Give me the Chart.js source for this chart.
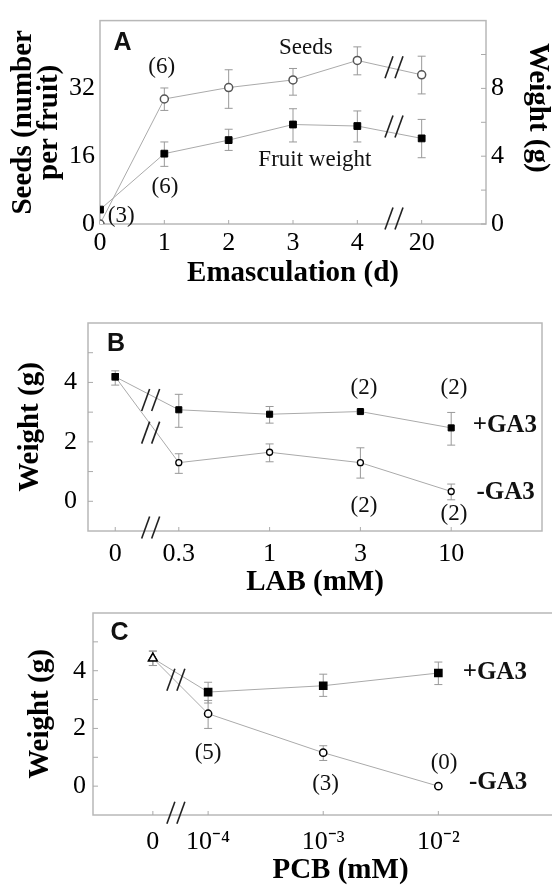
<!DOCTYPE html>
<html>
<head>
<meta charset="utf-8">
<script src="https://cdn.jsdelivr.net/npm/chart.js@4"></script>
<style>
  html, body { margin: 0; padding: 0; background: #fff; width: 552px; height: 891px; overflow: hidden; position: relative; }
  canvas { position: absolute; left: 0; }
</style>
</head>
<body>
<canvas id="chartA" width="552" height="290" style="top:0"></canvas>
<canvas id="chartB" width="552" height="307" style="top:290px"></canvas>
<canvas id="chartC" width="600" height="301" style="top:590px"></canvas>
<script>
// Panel A - emasculation
const daysPos = [0, 1, 2, 3, 4, 5];
const daysLabels = ['0', '1', '2', '3', '4', '20'];
const seeds = [0, 29.5, 32.2, 34.0, 38.6, 35.2];
const seedsLo = [0, 26.8, 27.3, 30.4, 35.2, 30.7];
const seedsHi = [0, 32.1, 36.4, 36.7, 41.8, 39.6];
const fruitWt = [0.85, 4.15, 4.95, 5.87, 5.78, 5.05];
const fruitWtLo = [0.85, 3.40, 4.34, 4.84, 4.84, 3.91];
const fruitWtHi = [0.85, 4.84, 5.59, 6.80, 6.67, 6.17];

// Panel B - LAB
const labPos = [0.3, 1, 2, 3, 4];
const labLabels = ['0', '0.3', '1', '3', '10'];
const labPlus = [4.19, 3.08, 2.93, 3.02, 2.47];
const labPlusLo = [3.91, 2.49, 2.63, 2.97, 1.89];
const labPlusHi = [4.39, 3.60, 3.19, 3.07, 2.99];
const labMinus = [4.19, 1.30, 1.65, 1.30, 0.33];
const labMinusLo = [4.19, 0.94, 1.33, 0.78, 0.05];
const labMinusHi = [4.19, 1.60, 1.93, 1.80, 0.58];

// Panel C - PCB
const pcbPos = [0.52, 1, 2, 3];
const pcbLabels = ['0', '10\u207B\u2074', '10\u207B\u00B3', '10\u207B\u00B2'];
const pcbPlus = [4.43, 3.26, 3.48, 3.92];
const pcbPlusLo = [4.18, 2.88, 3.11, 3.52];
const pcbPlusHi = [4.68, 3.60, 3.88, 4.30];
const pcbMinus = [4.43, 2.51, 1.16, 0];
const pcbMinusLo = [4.18, 2.00, 0.89, 0];
const pcbMinusHi = [4.68, 2.97, 1.40, 0];

const serif = "'Liberation Serif', 'Times New Roman', serif";
const sans = "'Liberation Sans', Arial, sans-serif";
const tickFont = { family: serif, size: 26 };
const titleFont = { family: serif, size: 29, weight: 'bold', lineHeight: 1 };
const LINE = '#aaaaaa';
const ERR = '#999999';
const BOX = '#b8b8b8';

function pts(xs, ys) {
  return xs.map((x, i) => ({ x: x, y: ys[i] }));
}

// box, inward ticks, error bars, axis breaks and in-plot texts
const decor = {
  id: 'decor',
  beforeDatasetsDraw(chart, args, o) {
    const ctx = chart.ctx, ca = chart.chartArea;
    ctx.save();
    ctx.strokeStyle = BOX;
    ctx.lineWidth = 1.5;
    ctx.strokeRect(ca.left, ca.top, ca.width, ca.height);

    ctx.lineWidth = 1;
    ctx.strokeStyle = '#aaa';
    const xs = chart.scales.x;
    (o.xMarks || []).forEach(v => {
      const px = xs.getPixelForValue(v);
      ctx.beginPath(); ctx.moveTo(px, ca.bottom); ctx.lineTo(px, ca.bottom - 4); ctx.stroke();
    });
    (o.yMarks || []).forEach(m => {
      const sc = chart.scales[m.axis];
      m.values.forEach(v => {
        const py = sc.getPixelForValue(v);
        ctx.beginPath();
        if (m.side === 'right') { ctx.moveTo(ca.right, py); ctx.lineTo(ca.right - 5, py); }
        else { ctx.moveTo(ca.left, py); ctx.lineTo(ca.left + 5, py); }
        ctx.stroke();
      });
    });

    ctx.strokeStyle = ERR;
    chart.data.datasets.forEach((ds, i) => {
      if (!ds.errLo) return;
      const meta = chart.getDatasetMeta(i);
      const sx = chart.scales[meta.xAxisID], sy = chart.scales[meta.yAxisID];
      ds.data.forEach((p, j) => {
        const lo = ds.errLo[j], hi = ds.errHi[j];
        if (lo === hi) return;
        const px = sx.getPixelForValue(p.x);
        const y1 = sy.getPixelForValue(lo), y2 = sy.getPixelForValue(hi);
        ctx.beginPath();
        ctx.moveTo(px, y1); ctx.lineTo(px, y2);
        ctx.moveTo(px - 4, y1); ctx.lineTo(px + 4, y1);
        ctx.moveTo(px - 4, y2); ctx.lineTo(px + 4, y2);
        ctx.stroke();
      });
    });
    ctx.restore();
  },
  afterDatasetsDraw(chart, args, o) {
    const ctx = chart.ctx;
    const xs = chart.scales.x, ys = chart.scales.y;
    ctx.save();
    ctx.strokeStyle = '#222';
    ctx.lineWidth = 1.6;
    (o.breaks || []).forEach(b => {
      const cx = xs.getPixelForValue(b.x), cy = ys.getPixelForValue(b.y);
      [-5, 5].forEach(dx => {
        ctx.beginPath();
        ctx.moveTo(cx + dx - 4, cy + 11);
        ctx.lineTo(cx + dx + 4, cy - 11);
        ctx.stroke();
      });
    });
    ctx.fillStyle = '#111';
    ctx.textAlign = 'center';
    ctx.textBaseline = 'middle';
    (o.labels || []).forEach(l => {
      ctx.font = l.font;
      ctx.fillText(l.text, xs.getPixelForValue(l.x), ys.getPixelForValue(l.y));
    });
    ctx.restore();
  }
};

function xScale(pos, labels, max, height, pad, title, titlePad) {
  return {
    type: 'linear', min: 0, max: max,
    grid: { display: false, drawTicks: false }, border: { display: false },
    afterBuildTicks: s => { s.ticks = pos.map(v => ({ value: v })); },
    afterFit: s => { s.height = height; },
    ticks: { autoSkip: false, maxRotation: 0, padding: pad, color: '#000', font: tickFont,
      callback: v => labels[pos.indexOf(v)] },
    title: { display: true, text: title, color: '#000', font: titleFont, padding: { top: 0, bottom: titlePad } }
  };
}

function yScale(pos, min, max, vals, width, pad, title, titlePad, extra) {
  return Object.assign({
    position: pos, min: min, max: max,
    grid: { display: false, drawTicks: false }, border: { display: false },
    afterBuildTicks: s => { s.ticks = vals.map(v => ({ value: v })); },
    afterFit: s => { s.width = width; },
    ticks: { padding: pad, color: '#000', font: tickFont },
    title: { display: true, text: title, color: '#000', font: titleFont, padding: { top: titlePad, bottom: 0 } }
  }, extra || {});
}

const baseOpts = {
  responsive: false,
  animation: false,
  events: [],
};

// ---- A ----
new Chart(document.getElementById('chartA'), {
  type: 'line',
  data: {
    datasets: [{
      label: 'Seeds',
      data: pts(daysPos, seeds),
      yAxisID: 'y',
      errLo: seedsLo, errHi: seedsHi,
      borderColor: LINE, borderWidth: 1,
      pointStyle: 'circle', pointRadius: 4, pointBorderWidth: 1.5,
      pointBorderColor: '#555', pointBackgroundColor: '#fff'
    }, {
      label: 'Fruit weight',
      data: pts(daysPos, fruitWt),
      yAxisID: 'y1',
      errLo: fruitWtLo, errHi: fruitWtHi,
      borderColor: LINE, borderWidth: 1,
      pointStyle: 'rect', pointRadius: 4.8, pointBorderWidth: 1,
      pointBorderColor: '#000', pointBackgroundColor: '#000'
    }]
  },
  options: Object.assign({}, baseOpts, {
    layout: { padding: { top: 10, left: 0, right: 0, bottom: 0 } },
    scales: {
      x: xScale(daysPos, daysLabels, 6, 66, 4, 'Emasculation (d)', 2),
      y: yScale('left', 0, 48, [0, 16, 32], 100, 5, ['Seeds (number', 'per fruit)'], 10,
        { title: { display: true, text: ['Seeds (number', 'per fruit)'], color: '#000',
          font: { family: serif, size: 29, weight: 'bold', lineHeight: 0.9 }, padding: { top: 10, bottom: 0 } } }),
      y1: yScale('right', 0, 12, [0, 4, 8], 66, 5, 'Weight (g)\u2002\u2002', 0)
    },
    plugins: {
      legend: { display: false }, tooltip: { enabled: false },
      decor: {
        xMarks: daysPos,
        yMarks: [{ axis: 'y1', side: 'right', values: [0, 2, 4, 6, 8, 10] }],
        breaks: [{ x: 4.57, y: 37 }, { x: 4.57, y: 23 }, { x: 4.57, y: 1.3 }],
        labels: [
          { x: 0.35, y: 42.6, text: 'A', font: 'bold 25px ' + sans },
          { x: 3.2, y: 41.5, text: 'Seeds', font: '23px ' + serif },
          { x: 0.96, y: 37, text: '(6)', font: '23px ' + serif },
          { x: 1.01, y: 8.8, text: '(6)', font: '23px ' + serif },
          { x: 0.33, y: 2.0, text: '(3)', font: '23px ' + serif },
          { x: 3.34, y: 15.1, text: 'Fruit weight', font: '23px ' + serif }
        ]
      }
    }
  }),
  plugins: [decor]
});

// ---- B ----
new Chart(document.getElementById('chartB'), {
  type: 'line',
  data: {
    datasets: [{
      label: '+GA3',
      data: pts(labPos, labPlus),
      errLo: labPlusLo, errHi: labPlusHi,
      borderColor: LINE, borderWidth: 1,
      pointStyle: 'rect', pointRadius: 4.3, pointBorderWidth: 1,
      pointBorderColor: '#000', pointBackgroundColor: '#000'
    }, {
      label: '-GA3',
      data: pts(labPos, labMinus),
      errLo: labMinusLo, errHi: labMinusHi,
      borderColor: LINE, borderWidth: 1,
      pointStyle: ['rect', 'circle', 'circle', 'circle', 'circle'],
      pointRadius: [4.3, 3, 3, 3, 3], pointBorderWidth: 1.3,
      pointBorderColor: '#000', pointBackgroundColor: ['#000', '#fff', '#fff', '#fff', '#fff']
    }]
  },
  options: Object.assign({}, baseOpts, {
    layout: { padding: { top: 33, left: 0, right: 10, bottom: 0 } },
    scales: {
      x: xScale(labPos, labLabels, 5, 66, 8, 'LAB (mM)', 0),
      y: yScale('left', -1, 6, [0, 2, 4], 88, 11, 'Weight (g)', 16)
    },
    plugins: {
      legend: { display: false }, tooltip: { enabled: false },
      decor: {
        xMarks: labPos,
        yMarks: [{ axis: 'y', side: 'left', values: [0, 1, 2, 3, 4, 5] }],
        breaks: [{ x: 0.69, y: 3.41 }, { x: 0.69, y: 2.31 }, { x: 0.69, y: -0.88 }],
        labels: [
          { x: 0.31, y: 5.3, text: 'B', font: 'bold 25px ' + sans },
          { x: 3.04, y: 3.81, text: '(2)', font: '23px ' + serif },
          { x: 4.03, y: 3.81, text: '(2)', font: '23px ' + serif },
          { x: 3.04, y: -0.16, text: '(2)', font: '23px ' + serif },
          { x: 4.03, y: -0.42, text: '(2)', font: '23px ' + serif },
          { x: 4.59, y: 2.54, text: '+GA3', font: 'bold 25px ' + serif },
          { x: 4.6, y: 0.31, text: '-GA3', font: 'bold 25px ' + serif }
        ]
      }
    }
  }),
  plugins: [decor]
});

// ---- C ----
new Chart(document.getElementById('chartC'), {
  type: 'line',
  data: {
    datasets: [{
      label: '+GA3',
      data: pts(pcbPos, pcbPlus),
      errLo: pcbPlusLo, errHi: pcbPlusHi,
      borderColor: LINE, borderWidth: 1,
      pointStyle: ['triangle', 'rect', 'rect', 'rect'],
      pointRadius: [5, 5.2, 5.2, 5.2], pointBorderWidth: 1.3,
      pointBorderColor: '#000', pointBackgroundColor: ['#fff', '#000', '#000', '#000']
    }, {
      label: '-GA3',
      data: pts(pcbPos, pcbMinus),
      errLo: pcbMinusLo, errHi: pcbMinusHi,
      borderColor: LINE, borderWidth: 1,
      pointStyle: ['triangle', 'circle', 'circle', 'circle'],
      pointRadius: [5, 3.6, 3.6, 3.6], pointBorderWidth: 1.5,
      pointBorderColor: '#000', pointBackgroundColor: '#fff'
    }]
  },
  options: Object.assign({}, baseOpts, {
    layout: { padding: { top: 23, left: 0, right: 12, bottom: 0 } },
    scales: {
      x: xScale(pcbPos, pcbLabels, 4.3, 76, 12, 'PCB (mM)', 6),
      y: yScale('left', -1, 6, [0, 2, 4], 93, 7, 'Weight (g)', 26)
    },
    plugins: {
      legend: { display: false }, tooltip: { enabled: false },
      decor: {
        xMarks: pcbPos,
        yMarks: [{ axis: 'y', side: 'left', values: [0, 1, 2, 3, 4, 5] }],
        breaks: [{ x: 0.72, y: 3.69 }, { x: 0.72, y: -0.92 }],
        labels: [
          { x: 0.23, y: 5.3, text: 'C', font: 'bold 25px ' + sans },
          { x: 1.0, y: 1.15, text: '(5)', font: '23px ' + serif },
          { x: 2.02, y: 0.06, text: '(3)', font: '23px ' + serif },
          { x: 3.05, y: 0.81, text: '(0)', font: '23px ' + serif },
          { x: 3.49, y: 3.93, text: '+GA3', font: 'bold 25px ' + serif },
          { x: 3.52, y: 0.13, text: '-GA3', font: 'bold 25px ' + serif }
        ]
      }
    }
  }),
  plugins: [decor]
});
</script>
</body>
</html>
